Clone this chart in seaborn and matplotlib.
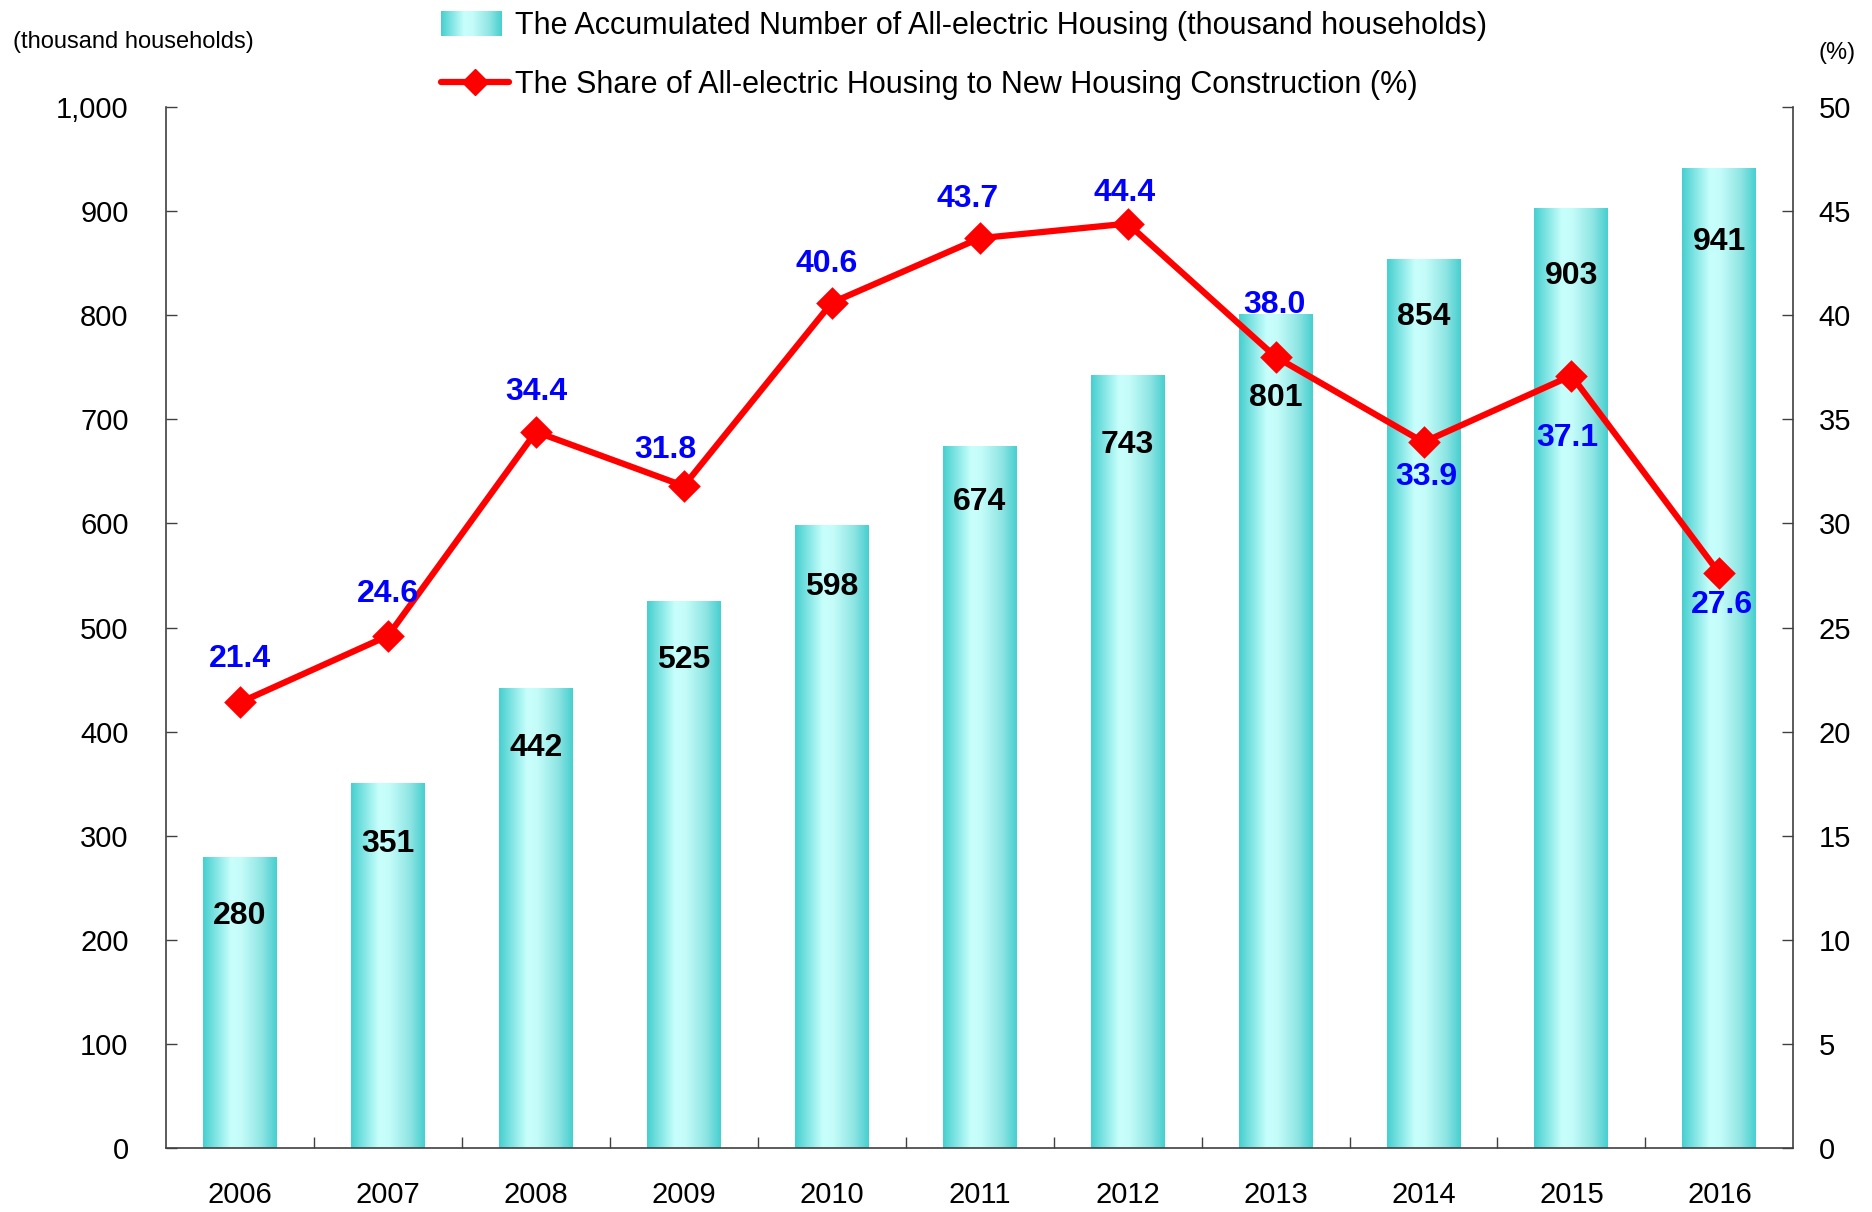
import numpy as np
import matplotlib
matplotlib.use("Agg")
import matplotlib.pyplot as plt
import seaborn as sns
from matplotlib.colors import LinearSegmentedColormap
from matplotlib.ticker import FuncFormatter, MultipleLocator, FixedLocator
from matplotlib.legend_handler import HandlerBase
from matplotlib.image import BboxImage
from matplotlib.transforms import Bbox, TransformedBbox
from matplotlib.patches import Patch
from matplotlib.lines import Line2D

years = ["2006", "2007", "2008", "2009", "2010", "2011", "2012", "2013", "2014", "2015", "2016"]
households = [280, 351, 442, 525, 598, 674, 743, 801, 854, 903, 941]
share = [21.4, 24.6, 34.4, 31.8, 40.6, 43.7, 44.4, 38.0, 33.9, 37.1, 27.6]

bar_name = "The Accumulated Number of All-electric Housing (thousand households)"
line_name = "The Share of All-electric Housing to New Housing Construction (%)"

# label nudges in points (hand tuned so labels don't hit the line)
bar_label_dy = [-43, -44, -43, -42, -44, -40, -51, -60, -42, -49, -53]
share_label_dx = [0, 0, 0, -13, -4, -9, -2, -1, 2, -3, 2]
share_label_dy = [31, 30, 29, 26, 28, 28, 22, 37, -25, -45, -23]

sns.set_theme(style="white")
plt.rcParams["font.family"] = ["Liberation Sans", "DejaVu Sans"]
plt.rcParams["text.color"] = "black"

grad = LinearSegmentedColormap.from_list(
    "turq", [(0, "#46CFCF"), (0.38, "#C8FFFC"), (0.52, "#C4FCF9"), (0.8, "#8EE5E3"), (1, "#46CFCF")])
grad_row = np.linspace(0, 1, 256).reshape(1, -1)


class GradientHandler(HandlerBase):
    def create_artists(self, legend, orig_handle, xdescent, ydescent, width, height, fontsize, trans):
        w = width * 0.9
        h = height * 1.15
        bb = Bbox.from_bounds(-xdescent, -ydescent + (height - h) / 2, w, h)
        img = BboxImage(TransformedBbox(bb, trans), cmap=grad, interpolation="bicubic")
        img.set_data(grad_row)
        return [img]


fig = plt.figure(figsize=(18.72, 12.12), dpi=100)
ax = fig.add_axes([0.0887, 0.0528, 0.8693, 0.8589])

sns.barplot(x=years, y=households, ax=ax, width=0.5, color="#46CFCF", saturation=1, errorbar=None)

bars = list(ax.patches)
for p in bars:
    x0, w, h = p.get_x(), p.get_width(), p.get_height()
    im = ax.imshow(grad_row, cmap=grad, extent=[x0, x0 + w, 0, h], aspect="auto",
                   interpolation="bicubic", zorder=2)
    im.set_clip_path(p)
    p.set_facecolor("none")
    p.set_edgecolor("none")

for i, (p, v) in enumerate(zip(bars, households)):
    ax.annotate(str(v), (p.get_x() + p.get_width() / 2, v), xytext=(0, bar_label_dy[i]),
                textcoords="offset points", ha="center", va="center",
                fontsize=23, fontweight="bold", color="black", zorder=5)

ax2 = ax.twinx()
sns.pointplot(x=years, y=share, ax=ax2, color="#FF0000", markers="D", markersize=13,
              linewidth=4.5, errorbar=None)

for i, v in enumerate(share):
    ax2.annotate(f"{v:.1f}", (i, v), xytext=(share_label_dx[i], share_label_dy[i]),
                 textcoords="offset points", ha="center", va="center",
                 fontsize=23, fontweight="bold", color="#0000FF")

ax.set_xlim(-0.5, 10.5)
ax.set_ylim(0, 1000)
ax2.set_ylim(0, 50)
ax.yaxis.set_major_locator(MultipleLocator(100))
ax2.yaxis.set_major_locator(MultipleLocator(5))
ax.yaxis.set_major_formatter(FuncFormatter(lambda v, _: f"{int(v):,}"))
ax.set_xlabel("")
ax.set_ylabel("")
ax2.set_xlabel("")
ax2.set_ylabel("")

ax.xaxis.set_minor_locator(FixedLocator(np.arange(0.5, 10, 1)))
ax.tick_params(axis="x", which="major", length=0, pad=24, labelsize=21, colors="black")
ax.tick_params(axis="x", which="minor", length=8, direction="in", width=1, color="#404040", bottom=True)
ax.tick_params(axis="y", length=8, direction="in", width=1, pad=27, labelsize=21, color="#404040", labelcolor="black")
ax2.tick_params(axis="y", length=8, direction="in", width=1, pad=18, labelsize=21, color="#404040", labelcolor="black")

for a in (ax, ax2):
    a.spines["top"].set_visible(False)
    for s in ("left", "right", "bottom"):
        a.spines[s].set_color("#404040")
        a.spines[s].set_linewidth(1.2)
ax.spines["right"].set_visible(False)
ax2.spines["left"].set_visible(False)
ax2.spines["bottom"].set_visible(False)

fig.text(0.007, 0.965, "(thousand households)", fontsize=17, ha="left", va="center")
fig.text(0.991, 0.956, "(%)", fontsize=17, ha="right", va="center")

handles = [Patch(label=bar_name),
           Line2D([], [], color="#FF0000", lw=4.5, marker="D", markersize=13, label=line_name)]
fig.legend(handles=handles, loc="upper left", bbox_to_anchor=(0.226, 1.006), frameon=False,
           fontsize=22, labelspacing=0.95, handlelength=2.2, handletextpad=0.2, borderpad=0.1,
           handler_map={Patch: GradientHandler()})

fig.savefig("out.png", dpi=100, facecolor="white")
